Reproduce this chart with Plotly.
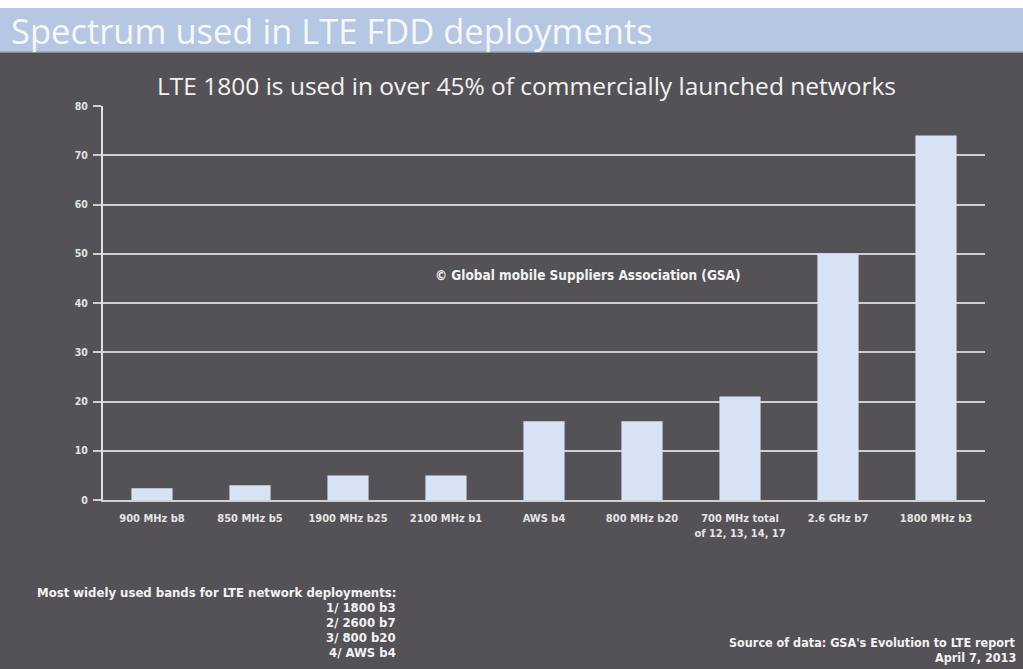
import plotly.graph_objects as go

# LTE FDD bands and number of commercially launched networks using each
bands = [
    "900 MHz b8",
    "850 MHz b5",
    "1900 MHz b25",
    "2100 MHz b1",
    "AWS b4",
    "800 MHz b20",
    "700 MHz total<br>of 12, 13, 14, 17",
    "2.6 GHz b7",
    "1800 MHz b3",
]
networks = [2.4, 3, 5, 5, 16, 16, 21, 50, 74]

y_ticks = [0, 10, 20, 30, 40, 50, 60, 70, 80]

top_bands = ["1/ 1800 b3", "2/ 2600 b7", "3/ 800 b20", "4/ AWS b4"]

BG = "#545257"
BAND_BLUE = "#b5c7e2"
BAR = "#d7e3f4"
GRID = "#cfcfd2"
TEXT = "#eeeeee"
COND = "DejaVu Sans Condensed"

W, H = 1023, 669
ML, MR, MT, MB = 103, 38, 106, 169
PW, PH = W - ML - MR, H - MT - MB

fig = go.Figure(
    go.Bar(
        x=bands,
        y=networks,
        marker=dict(color=BAR, line=dict(width=0)),
        hoverinfo="x+y",
    )
)

fig.update_layout(
    width=W,
    height=H,
    paper_bgcolor=BG,
    plot_bgcolor=BG,
    margin=dict(l=ML, r=MR, t=MT, b=MB),
    bargap=0.58,
    showlegend=False,
    font=dict(family=COND, color=TEXT),
)

fig.update_yaxes(
    range=[0, 80],
    tickvals=y_ticks,
    ticktext=[f"<b>{v}</b>" for v in y_ticks],
    tickfont=dict(family=COND, size=10.5, color="#e4e4e4"),
    showgrid=True,
    gridcolor=GRID,
    gridwidth=2,
    zeroline=False,
    showline=True,
    linecolor="#e6dde8",
    linewidth=2,
    ticks="outside",
    ticklen=8,
    tickwidth=2,
    tickcolor=GRID,
    ticklabelstandoff=3,
    fixedrange=True,
)

fig.update_xaxes(
    tickvals=bands,
    ticktext=[f"<b>{b}</b>" for b in bands],
    tickfont=dict(family=COND, size=11, color="#e4e4e4"),
    showline=True,
    linecolor=GRID,
    linewidth=2,
    showgrid=False,
    ticks="",
    tickangle=0,
    ticklabelstandoff=7,
    fixedrange=True,
)


def px_x(px):
    return (px - ML) / PW


def px_y(py):
    return (H - MB - py) / PH


# header band across the top of the page
fig.add_shape(type="rect", xref="paper", yref="paper",
              x0=px_x(-5), x1=px_x(W + 5), y0=px_y(8), y1=px_y(-5),
              fillcolor="#ffffff", line=dict(width=0), layer="below")
fig.add_shape(type="rect", xref="paper", yref="paper",
              x0=px_x(-5), x1=px_x(W + 5), y0=px_y(52), y1=px_y(8),
              fillcolor=BAND_BLUE, line=dict(width=0), layer="below")
fig.add_shape(type="line", xref="paper", yref="paper",
              x0=px_x(-5), x1=px_x(W + 5), y0=px_y(52), y1=px_y(52),
              line=dict(color="#9aa8bd", width=1.5))

annotations = [
    dict(text="Spectrum used in LTE FDD deployments", x=px_x(9), y=px_y(30),
         xanchor="left", yanchor="middle",
         font=dict(family="Open Sans", size=34.5, color="#f6f8fc")),
    dict(text="LTE 1800 is used in over 45% of commercially launched networks",
         x=px_x(526), y=px_y(85), xanchor="center", yanchor="middle",
         font=dict(family="Open Sans", size=24.5, color="#f2f2f2")),
    dict(text="<b>© Global mobile Suppliers Association (GSA)</b>",
         x=px_x(588), y=px_y(275), xanchor="center", yanchor="middle",
         font=dict(family=COND, size=13.5, color="#f2f2f2")),
    dict(text="<b>Most widely used bands for LTE network deployments:</b>",
         x=px_x(398), y=px_y(592), xanchor="right", yanchor="middle",
         font=dict(family=COND, size=13, color="#f2f2f2")),
    dict(text="<b>Source of data: GSA's Evolution to LTE report</b>",
         x=px_x(1018), y=px_y(642), xanchor="right", yanchor="middle",
         font=dict(family=COND, size=12.5, color="#f2f2f2")),
    dict(text="<b>April 7, 2013</b>",
         x=px_x(1018), y=px_y(657), xanchor="right", yanchor="middle",
         font=dict(family=COND, size=12.5, color="#f2f2f2")),
]
for i, line in enumerate(top_bands):
    annotations.append(
        dict(text=f"<b>{line}</b>", x=px_x(398), y=px_y(607 + 15 * i),
             xanchor="right", yanchor="middle",
             font=dict(family=COND, size=13, color="#f2f2f2"))
    )

for a in annotations:
    a.update(xref="paper", yref="paper", showarrow=False)
fig.update_layout(annotations=annotations)

fig.write_html("out.html")
